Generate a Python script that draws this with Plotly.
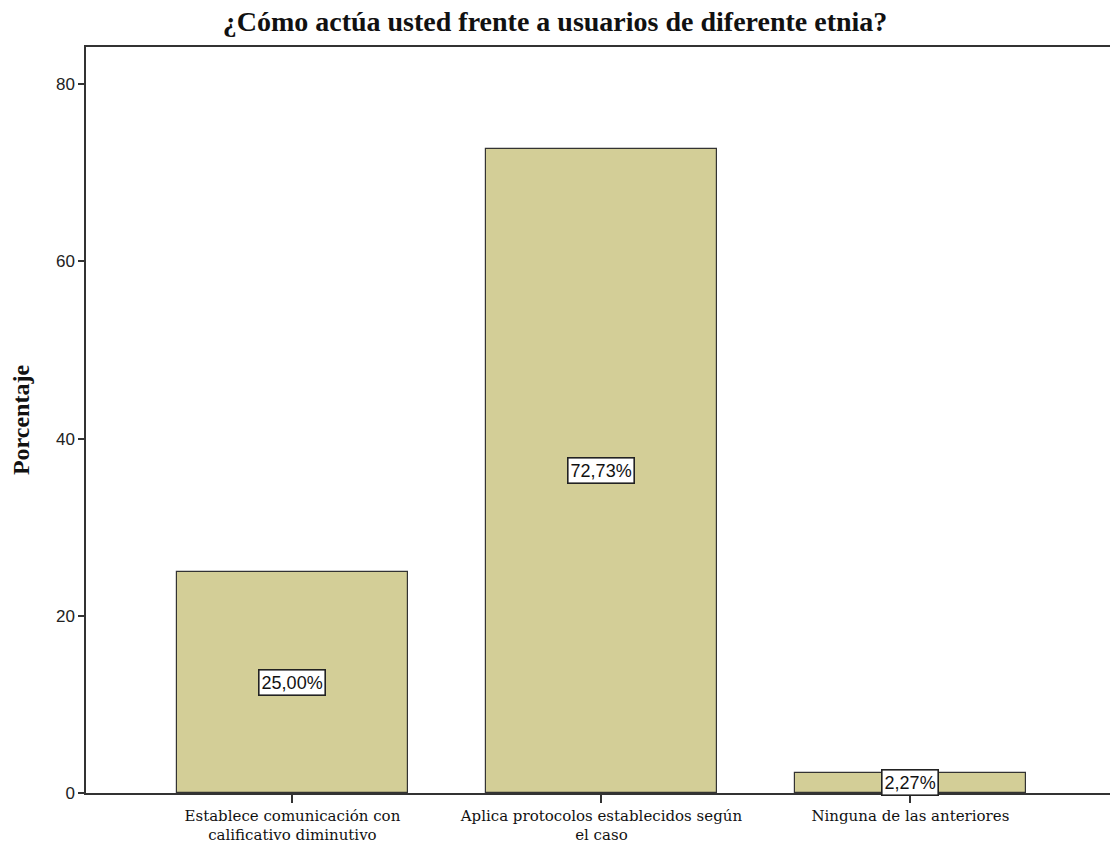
import plotly.graph_objects as go

# Categorías y porcentajes de la pregunta
categorias = [
    "Establece comunicación con<br>calificativo diminutivo",
    "Aplica protocolos establecidos según<br>el caso",
    "Ninguna de las anteriores",
]
porcentajes = [25.00, 72.73, 2.27]
etiquetas = ["25,00%", "72,73%", "2,27%"]
y_ticks = [0, 20, 40, 60, 80]

x_pos = list(range(len(categorias)))

fig = go.Figure()
fig.add_trace(go.Bar(
    x=x_pos,
    y=porcentajes,
    width=0.748,
    marker=dict(color="#d3ce97", line=dict(color="#333333", width=1.2)),
    hoverinfo="skip",
))

# Etiquetas de valor en recuadro, centradas a media altura de cada barra
for xi, v, t in zip(x_pos, porcentajes, etiquetas):
    fig.add_annotation(
        x=xi, y=v / 2, text=t, showarrow=False,
        font=dict(family="Liberation Sans, Arial", size=18, color="#111111"),
        bgcolor="white", bordercolor="#222222", borderwidth=1.6, borderpad=2,
    )

fig.update_layout(
    width=1110, height=847,
    margin=dict(l=86, r=0, t=47, b=54, autoexpand=False),
    paper_bgcolor="white", plot_bgcolor="white",
    showlegend=False,
    title=dict(
        text="<b>¿Cómo actúa usted frente a usuarios de diferente etnia?</b>",
        x=0.5, xanchor="center", y=1 - 21 / 847, yanchor="middle",
        font=dict(family="Liberation Serif, Times New Roman", size=28, color="#111111"),
    ),
    bargap=0,
)

fig.update_xaxes(
    range=[-0.668, 2.646], automargin=False,
    tickmode="array", tickvals=x_pos, ticktext=categorias,
    ticks="outside", ticklen=8, tickwidth=1.5, tickcolor="#333333",
    showline=True, linecolor="#333333", linewidth=1.5, mirror=True,
    showgrid=False, zeroline=False,
    tickfont=dict(family="DejaVu Serif, Liberation Serif", size=15, color="#111111"),
)
fig.update_yaxes(
    range=[0, 84.2], automargin=False,
    tickmode="array", tickvals=y_ticks,
    ticks="outside", ticklen=6, tickwidth=2, tickcolor="#333333",
    showline=True, linecolor="#333333", linewidth=1.5,
    showgrid=False, zeroline=False,
    tickfont=dict(family="Liberation Sans, Arial", size=17, color="#222222"),
    title=dict(text="<b>Porcentaje</b>", standoff=20,
               font=dict(family="Liberation Serif, Times New Roman", size=24, color="#111111")),
)

fig.write_html("out.html")
